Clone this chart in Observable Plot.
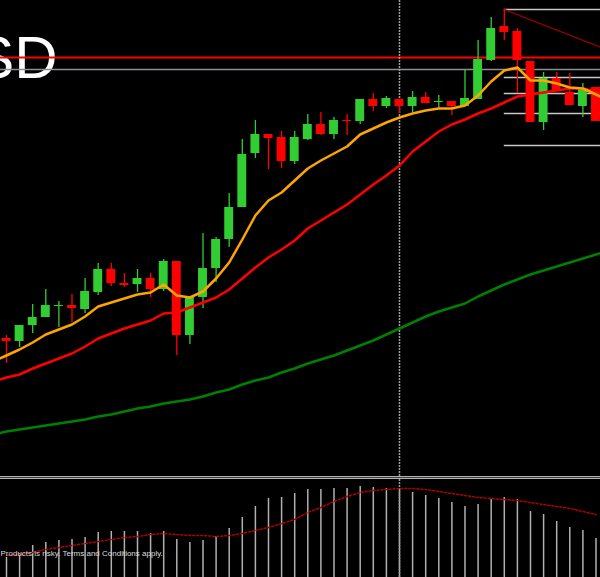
<!DOCTYPE html>
<html><head><meta charset="utf-8">
<script src="https://cdn.jsdelivr.net/npm/d3@7"></script>
<script src="https://cdn.jsdelivr.net/npm/@observablehq/plot@0.6"></script>
<style>
html,body{margin:0;padding:0;background:#000;}
#wrap{width:600px;height:577px;overflow:hidden;background:#000;}
#sep{height:1px;border-top:1px solid #b4b4b4;border-bottom:1px solid #b4b4b4;background:#3c3c3c;}
svg{display:block;overflow:hidden;}
</style></head><body><div id="wrap"></div>
<script>
// Candles (price in points)
const open  = [662,659,675,683,694,695,691,708,731,717, 716,722,711,739,665,703,732,761,793,847, 866,863,839,861,876,866,880,879,901,894, 901,894,903,898,899,894,901,940,974,969, 939,878,922,908,894,913];
const close = [659,675,683,695,695,692,709,731,717,715, 722,711,739,665,703,732,761,793,846,866, 862,839,863,876,866,880,879,901,894,902, 894,903,897,899,894,902,941,972,968,940, 878,922,910,895,912,879];
const high  = [665,675,696,711,699,706,722,737,737,727, 731,727,741,739,703,767,763,807,861,880, 866,869,869,886,888,883,886,901,907,904, 901,909,908,905,899,931,960,983,991,972, 939,928,928,927,917,913];
const low   = [637,653,667,683,673,678,687,705,714,713, 708,703,709,645,656,692,718,753,793,842, 831,832,836,860,865,861,865,876,889,892, 887,888,897,892,885,894,901,939,960,907, 878,870,910,895,883,879];

// Moving averages, index -1 .. 46
const maStart = -1;
const maFast = [639, 645,651,658,666,671,676,684,694,698,702, 706,708,716,705,703,709,722,738,761,785, 800,808,820,832,840,847,854,866,872,878, 883,887,890,892,892,895,905,919,930,933, 920,920,917,913,912,906, 900];
const maMid  = [619, 623,626,632,637,642,647,654,662,667,672, 676,680,687,688,693,698,703,711,722,733, 743,751,760,772,780,788,796,806,816,825, 835,849,859,869,876,881,887,892,898,904, 906,908,910,912,912,909, 906];
const maSlow = [566, 569,571,573,575,577,579,581,584,586,589, 592,594,597,599,601,604,608,611,616,620, 623,628,632,637,641,645,650,655,660,666, 672,678,684,689,693,697,704,710,716,721, 726,730,734,738,742,746, 750];

// Levels
const resistance = [943];
const support = [931];
const fibStart = 38;
const fibEnd = 46;
const fibLevels = [991, 923, 907, 887, 855];
const trendI = [38, 46];
const trendV = [991, 950];
const markerIndex = [30];

// Oscillator
const macd   = [43,47,55,58,60,61,63,68,69,69, 69,67,69,61,58,60,64,72,83,94, 102,103,107,111,111,112,112,114,113,112, 112,108,105,102,98,94,96,101,103,101, 89,86,79,73,70,62];
const signal = [45,46,48,51,53,55,57,59,61,63, 64,66,67,66,65,65,64,65,67,70, 73,77,81,88,93,99,104,108,110,111, 112,112,111,109,107,105,103,102,101,100, 98,96,94,92,89,86];

const title = "SD";
const disclaimer = "Products is risky. Terms and Conditions apply.";

const GREEN = "#32cd32", RED = "#ff0000";
const candles = open.map((o, i) => ({i, open: o, high: high[i], low: low[i], close: close[i]}));
const colorOf = d => d.close >= d.open ? GREEN : RED;
const toSeries = arr => arr.map((v, k) => ({i: k + maStart, v}));
const xDomain = [-0.458, 45.344];
const dashed = {stroke: "#a0a0a0", strokeWidth: 1.5, strokeDasharray: "2,1"};

const topPlot = Plot.plot({
  width: 600, height: 476, margin: 0,
  x: {domain: xDomain, axis: null},
  y: {domain: [524, 1000], axis: null},
  color: {type: "identity"},
  style: {background: "#000", color: "#fff"},
  marks: [
    Plot.text([title], {text: d => d, frameAnchor: "top-left", dx: 57, dy: 77, textAnchor: "end", lineAnchor: "bottom", fontSize: 60, fill: "#fff", fontFamily: "Liberation Sans, Arial, sans-serif"}),
    Plot.ruleY(support, {stroke: "#8a8f96", strokeWidth: 1.5}),
    Plot.ruleY(resistance, {stroke: "#ff0000", strokeWidth: 2}),
    Plot.ruleY(fibLevels, {y: d => d, x1: fibStart, x2: fibEnd, stroke: "#c8c8c8", strokeWidth: 1.5}),
    Plot.line(trendI.map((i, k) => ({i, v: trendV[k]})), {x: "i", y: "v", stroke: "#8b0000", strokeWidth: 1.5}),
    Plot.ruleX(markerIndex, dashed),
    Plot.ruleX(candles, {x: "i", y1: "low", y2: "high", stroke: colorOf, strokeWidth: 1.3}),
    Plot.rect(candles, {x1: d => d.i - 0.34, x2: d => d.i + 0.34, y1: "open", y2: "close", fill: colorOf}),
    Plot.line(toSeries(maSlow), {x: "i", y: "v", stroke: "#008000", strokeWidth: 2.5}),
    Plot.line(toSeries(maMid), {x: "i", y: "v", stroke: "#ff0000", strokeWidth: 2.5}),
    Plot.line(toSeries(maFast), {x: "i", y: "v", stroke: "#ffa500", strokeWidth: 2.5})
  ]
});

const bottomPlot = Plot.plot({
  width: 600, height: 98, margin: 0,
  x: {domain: xDomain, axis: null},
  y: {domain: [23, 121], axis: null},
  style: {background: "#000", color: "#fff"},
  marks: [
    Plot.ruleX(macd.map((v, i) => ({i, v})), {x: "i", y1: 0, y2: "v", stroke: "#b0b0b0", strokeWidth: 1.5, clip: true}),
    Plot.ruleX(markerIndex, dashed),
    Plot.line(signal.map((v, i) => ({i, v})), {x: "i", y: "v", stroke: "#b00000", strokeWidth: 1.5, strokeDasharray: "2,2"}),
    Plot.text([disclaimer], {text: d => d, frameAnchor: "top-left", dx: 0, dy: 76, textAnchor: "start", lineAnchor: "bottom", fontSize: 8, fill: "#dddddd", fontFamily: "Liberation Sans, Arial, sans-serif"})
  ]
});

const wrap = document.getElementById("wrap");
wrap.appendChild(topPlot);
const sep = document.createElement("div");
sep.id = "sep";
wrap.appendChild(sep);
wrap.appendChild(bottomPlot);
</script>
</body></html>
